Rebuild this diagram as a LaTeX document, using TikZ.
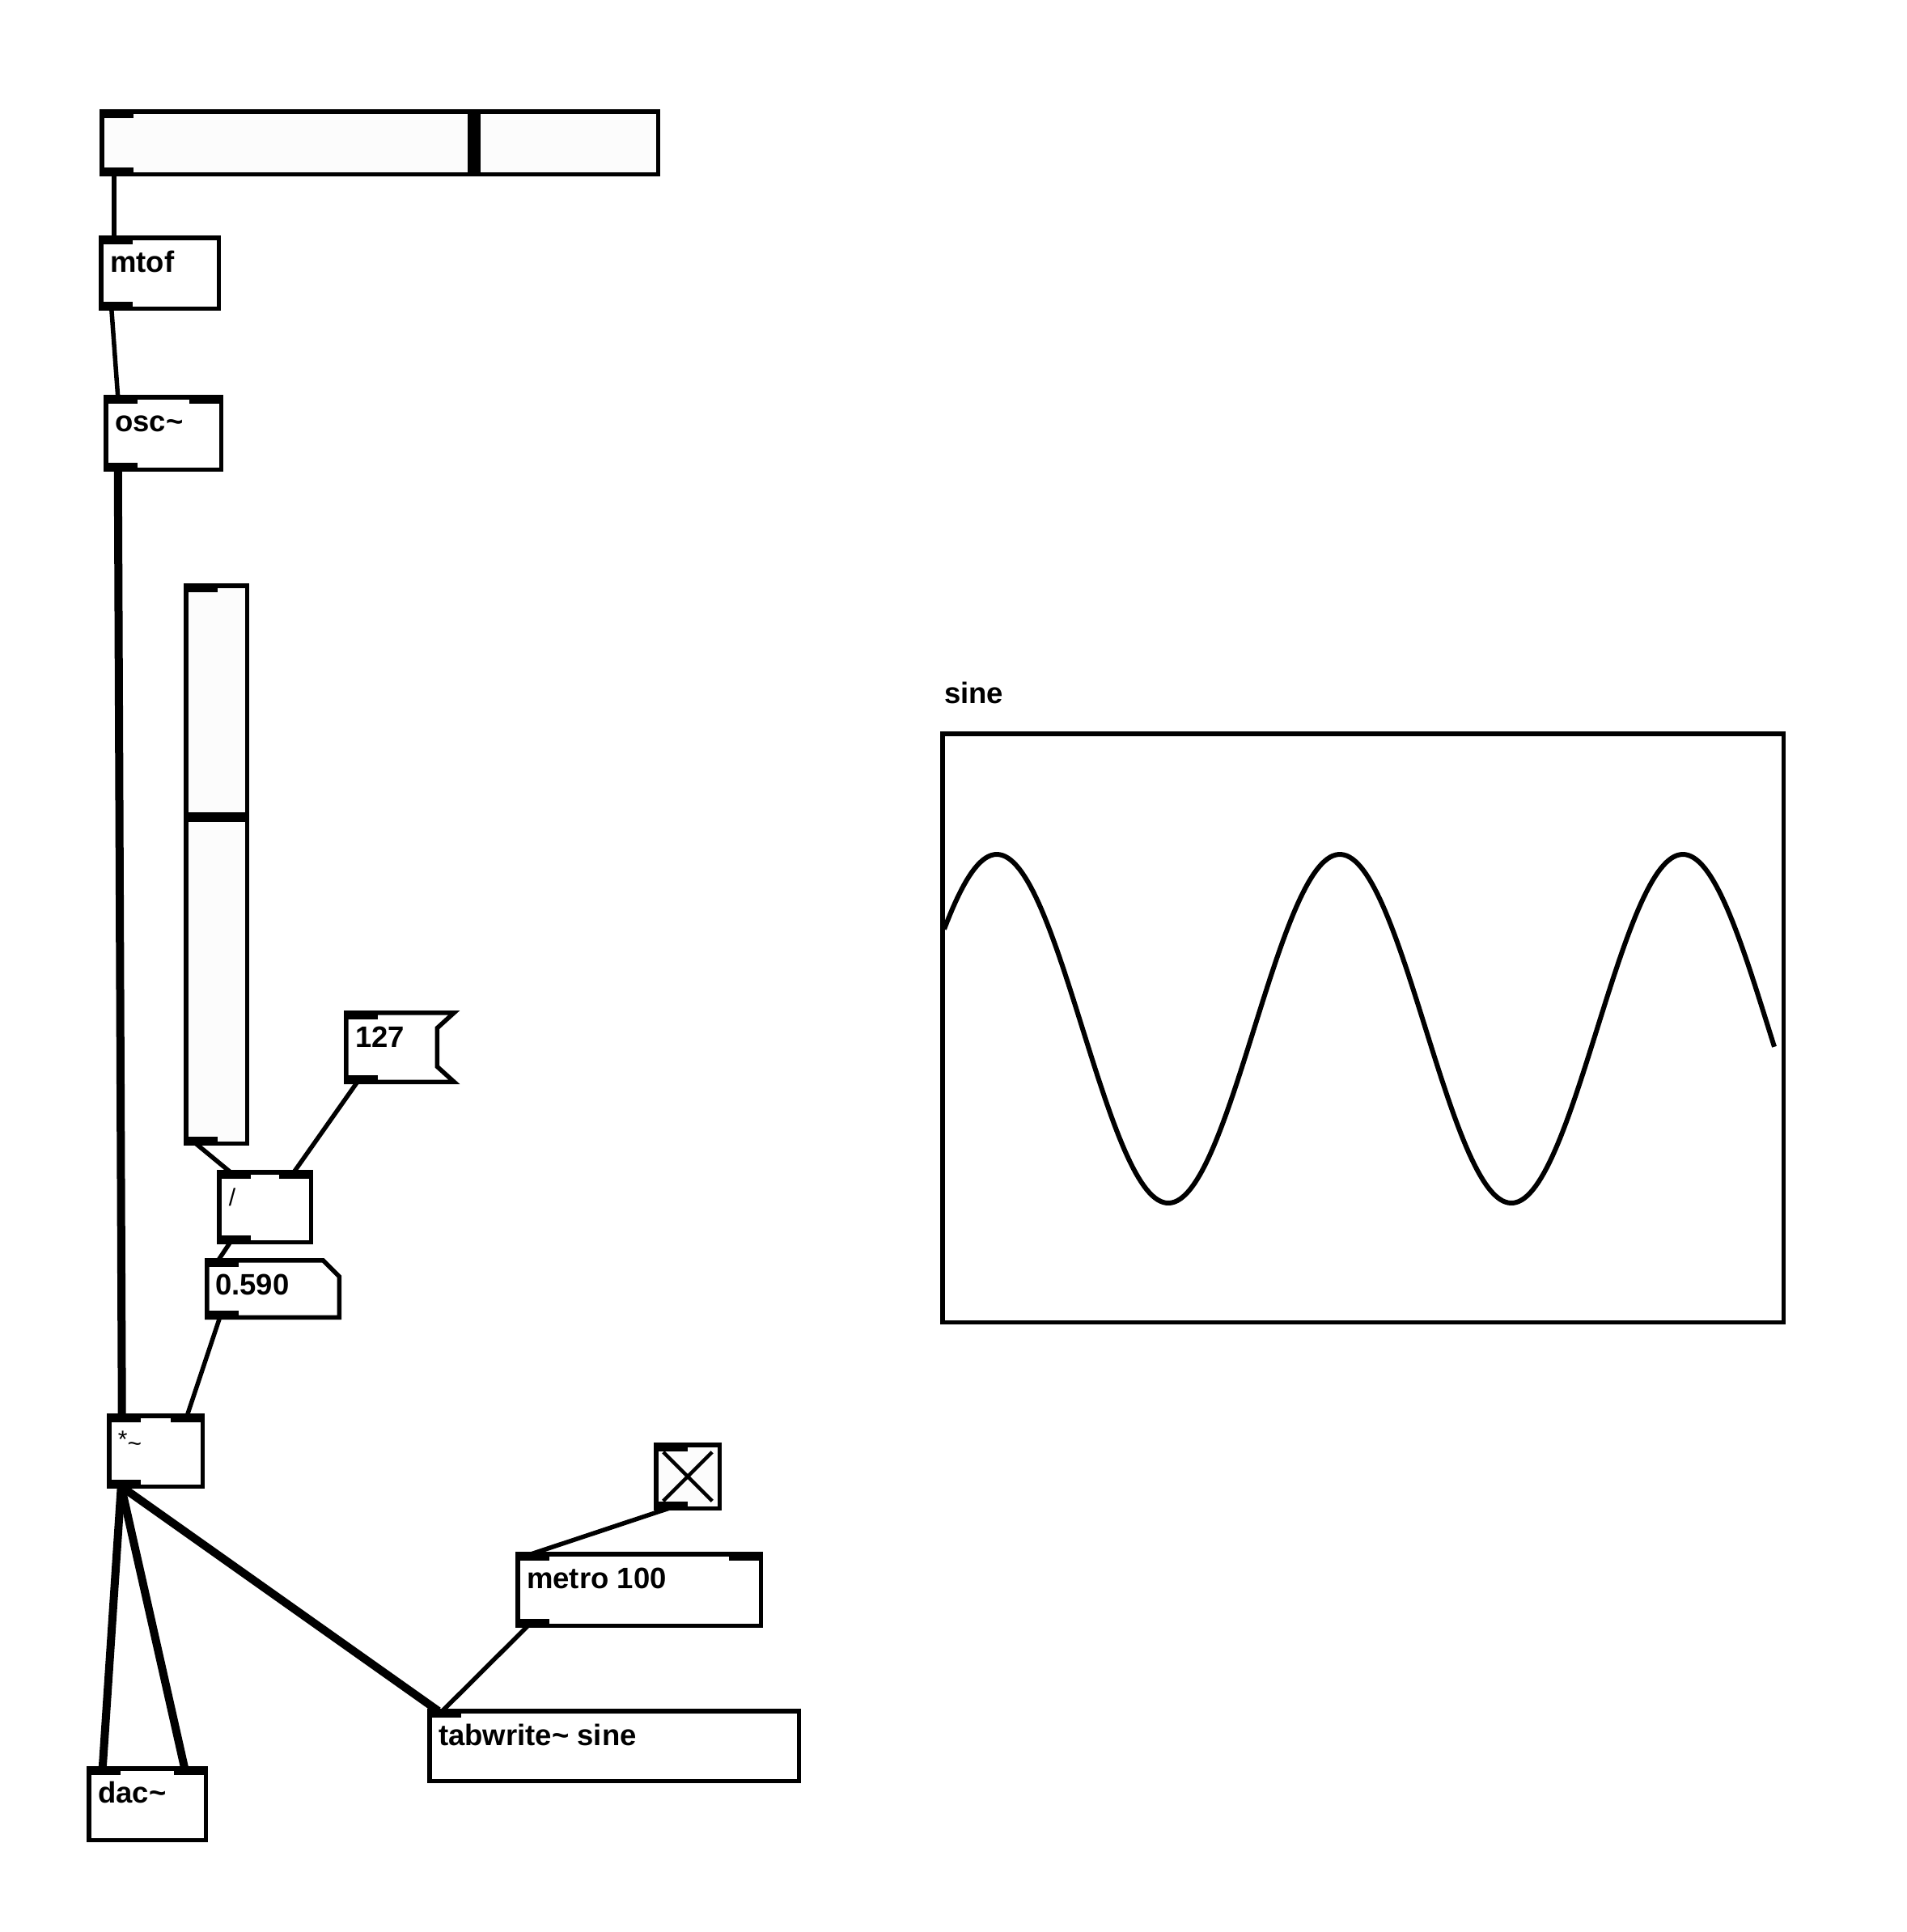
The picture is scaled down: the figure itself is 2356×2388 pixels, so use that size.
\documentclass[tikz,border=0pt]{standalone}
\usepackage{fontspec}
\setmainfont{Liberation Sans}
\usetikzlibrary{calc}
\definecolor{slbg}{HTML}{FCFCFC}
\tikzset{
  pd/.style={draw, line width=5.5pt, inner sep=0pt, outer sep=0pt, anchor=north west},
  pdshape/.style={inner sep=0pt, outer sep=0pt, anchor=north west},
  txt/.style={anchor=base west, inner sep=0pt, font=\fontsize{36.5}{40}\selectfont\bfseries},
  smalltxt/.style={anchor=base west, inner sep=0pt, font=\fontsize{30}{34}\selectfont},
  ctl/.style={line width=5.5pt},
  sig/.style={line width=10pt},
  border/.style={line width=5.5pt, line join=miter}
}
\newcommand\pdin[1]{\fill ($(#1.north west)+(-2.75,-2.75)$) rectangle ++(42,11);}
\newcommand\pdinr[1]{\fill ($(#1.north east)+(2.75,-2.75)$) rectangle ++(-42,11);}
\newcommand\pdout[1]{\fill ($(#1.south west)+(-2.75,2.75)$) rectangle ++(42,-11);}
\begin{document}
\begin{tikzpicture}[x=1pt,y=-1pt]
\fill[white] (0,0) rectangle (2356,2388);
\useasboundingbox (0,0) rectangle (2356,2388);

% ---- objects ----
\node[pd, fill=slbg, minimum width=687.5pt, minimum height=77.5pt] (hsl) at (125.75,137.75) {};
\node[pd, minimum width=145.5pt, minimum height=87.5pt] (mtof) at (124.75,293.75) {};
\node[pd, minimum width=142.5pt, minimum height=89.5pt] (osc) at (130.75,490.75) {};
\node[pd, fill=slbg, minimum width=75.5pt, minimum height=689.5pt] (vsl) at (229.75,723.75) {};
\node[pdshape, minimum width=133.5pt, minimum height=85.5pt] (msg) at (427.75,1251.75) {};
\node[pd, minimum width=113.5pt, minimum height=86.5pt] (div) at (270.75,1448.75) {};
\node[pdshape, minimum width=163.5pt, minimum height=70.5pt] (num) at (255.75,1557.75) {};
\node[pd, minimum width=115.5pt, minimum height=87.5pt] (mul) at (134.75,1749.75) {};
\node[pd, fill=slbg, minimum width=78.5pt, minimum height=78.5pt] (tgl) at (810.75,1785.75) {};
\node[pd, minimum width=300.5pt, minimum height=88.5pt] (metro) at (639.75,1920.75) {};
\node[pd, minimum width=456.5pt, minimum height=86.5pt] (tab) at (530.75,2114.75) {};
\node[pd, minimum width=144.5pt, minimum height=88.5pt] (dac) at (109.75,2185.75) {};
\node[pd, minimum width=1039.5pt, minimum height=727.5pt] (graph) at (1164.75,906.75) {};

% message box flag shape
\draw[border] (msg.north west) -- (msg.north east) -- ($(msg.north east)+(-21,19)$)
  -- ($(msg.south east)+(-21,-19)$) -- (msg.south east) -- (msg.south west) -- cycle;
% number box with cut corner
\draw[border] (num.north west) -- ($(num.north east)+(-20,0)$) -- ($(num.north east)+(0,20)$)
  -- (num.south east) -- (num.south west) -- cycle;

% slider knobs
\fill ($(hsl.north west)+(452.25,0)$) rectangle ++(16,77.5);
\fill ($(vsl.north west)+(3.25,280.25)$) rectangle ++(72.25,12);
% toggle cross
\draw[line width=4.5pt] ($(tgl.north west)+(9,9)$) -- ($(tgl.south east)+(-9,-9)$);
\draw[line width=4.5pt] ($(tgl.north east)+(-9,9)$) -- ($(tgl.south west)+(9,-9)$);

% inlets / outlets
\pdin{hsl}\pdout{hsl}
\pdin{mtof}\pdout{mtof}
\pdin{osc}\pdinr{osc}\pdout{osc}
\pdin{vsl}\pdout{vsl}
\pdin{msg}\pdout{msg}
\pdin{div}\pdinr{div}\pdout{div}
\pdin{num}\pdout{num}
\pdin{mul}\pdinr{mul}\pdout{mul}
\pdin{tgl}\pdout{tgl}
\pdin{metro}\pdinr{metro}\pdout{metro}
\pdin{tab}
\pdin{dac}\pdinr{dac}

% texts
\node[txt] (mtoft) at ($(mtof.north west)+(11.25,43)$) {mtof};
\node[txt] (osct) at ($(osc.north west)+(11.25,43)$) {osc\textasciitilde};
\node[txt] (msgt) at ($(msg.north west)+(11.25,43)$) {127};
\node[smalltxt] (divt) at ($(div.north west)+(12,42)$) {/};
\node[txt] (numt) at ($(num.north west)+(10.25,43)$) {0.590};
\node[smalltxt] (mult) at ($(mul.north west)+(11,40)$) {*\raisebox{-5pt}{\textasciitilde}};
\node[txt] (metrot) at ($(metro.north west)+(11.25,43)$) {metro 100};
\node[txt] (tabt) at ($(tab.north west)+(11.25,42.5)$) {tabwrite\textasciitilde{} sine};
\node[txt] (dact) at ($(dac.north west)+(11.25,43)$) {dac\textasciitilde};
\node[txt] (grapht) at ($(graph.north west)+(2.25,-37.75)$) {sine};

% sine curve
\draw[line width=6pt, line join=round] plot[domain=1167:2193, samples=300]
  (\x, {1271.5-215.5*sin(((\x-1232)/424)*360+90)});

% ---- connections ----
\draw[ctl] ($(hsl.south west)+(15,0)$) -- ($(mtof.north west)+(16,0)$);
\draw[ctl] ($(mtof.south west)+(13,0)$) -- ($(osc.north west)+(15,0)$);
\draw[sig] ($(osc.south west)+(15,0)$) -- ($(mul.north west)+(16,0)$);
\draw[ctl] ($(vsl.south west)+(12,0)$) -- ($(div.north west)+(14,0)$);
\draw[ctl] ($(msg.south west)+(14,0)$) -- ($(div.north east)+(-21,0)$);
\draw[ctl] ($(div.south west)+(14,0)$) -- ($(num.north west)+(14,0)$);
\draw[ctl] ($(num.south west)+(16,0)$) -- ($(mul.north east)+(-19,0)$);
\draw[sig] ($(mul.south west)+(15,0)$) -- ($(dac.north west)+(17,0)$);
\draw[sig] ($(mul.south west)+(15,0)$) -- ($(dac.north east)+(-26,0)$);
\draw[sig] ($(mul.south west)+(15,0)$) -- ($(tab.north west)+(11,0)$);
\draw[ctl] ($(tgl.south west)+(16,0)$) -- ($(metro.north west)+(17,0)$);
\draw[ctl] ($(metro.south west)+(13,0)$) -- ($(tab.north west)+(16,0)$);
\end{tikzpicture}
\end{document}
